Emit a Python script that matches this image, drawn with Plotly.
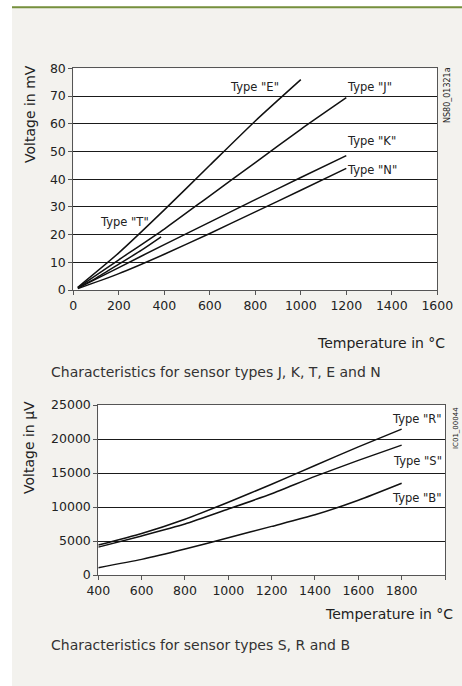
import plotly.graph_objects as go

W, H = 462, 686

# ---- Chart 1 data (mV vs °C) ----
temp_E = [20, 200, 400, 600, 800, 1000]
volt_E = [1.0, 13.4, 28.9, 45.0, 61.0, 75.9]
temp_J = [20, 200, 400, 600, 800, 1000, 1200]
volt_J = [0.9, 10.9, 22.0, 34.0, 46.0, 58.0, 69.4]
temp_K = [20, 200, 400, 600, 800, 1000, 1200]
volt_K = [0.7, 8.1, 16.4, 24.5, 32.6, 40.6, 48.5]
temp_N = [20, 200, 400, 600, 800, 1000, 1200]
volt_N = [0.5, 5.9, 12.9, 20.4, 28.2, 36.0, 43.9]
temp_T = [20, 100, 200, 300, 386]
volt_T = [0.8, 4.3, 9.3, 14.4, 19.2]

x1_ticks = [0, 200, 400, 600, 800, 1000, 1200, 1400, 1600]

# ---- Chart 2 data (µV vs °C) ----
temp_RSB = [400, 600, 800, 1000, 1200, 1400, 1600, 1800]
volt_R = [4400, 6100, 8200, 10700, 13350, 16100, 18850, 21450]
volt_S = [4100, 5750, 7500, 9700, 11950, 14500, 16850, 19100]
volt_B = [1080, 2300, 3820, 5480, 7150, 8850, 11000, 13500]

x2_ticks = [400, 600, 800, 1000, 1200, 1400, 1600, 1800, 2000]
x2_labels = ["400", "600", "800", "1000", "1200", "1400", "1600", "1800", ""]

FONT = "DejaVu Sans"
TXT = "#222222"
BEIGE = "#f3f2ee"
GREEN = "#76903d"


def px(x):
    return x / W


def py(y):
    return 1 - y / H


line_style = dict(color="#111111", width=1.5, shape="spline", smoothing=0.6)

fig = go.Figure()
for tx, vy in [(temp_E, volt_E), (temp_J, volt_J), (temp_K, volt_K),
               (temp_N, volt_N), (temp_T, volt_T)]:
    fig.add_trace(go.Scatter(x=tx, y=vy, mode="lines", line=line_style,
                             xaxis="x", yaxis="y", hoverinfo="skip"))
for vy in [volt_R, volt_S, volt_B]:
    fig.add_trace(go.Scatter(x=temp_RSB, y=vy, mode="lines", line=line_style,
                             xaxis="x2", yaxis="y2", hoverinfo="skip"))

axis_common = dict(
    showline=True, linecolor="#555555", linewidth=1, mirror=True,
    ticks="outside", ticklen=4, tickcolor="#555555", tickwidth=1,
    zeroline=False, tickfont=dict(family=FONT, size=12.5, color=TXT),
    fixedrange=True, automargin=False,
)

fig.update_layout(
    width=W, height=H,
    margin=dict(l=0, r=0, t=0, b=0, autoexpand=False),
    paper_bgcolor=BEIGE,
    plot_bgcolor="white",
    showlegend=False,
    font=dict(family=FONT, color=TXT),
    xaxis=dict(domain=[px(73.3), px(437.3)], range=[0, 1600],
               tickvals=x1_ticks, showgrid=False, anchor="y", **axis_common),
    yaxis=dict(domain=[py(290), py(68.3)], range=[0, 80], dtick=10,
               showgrid=True, gridcolor="#1a1a1a", gridwidth=1,
               anchor="x", **axis_common),
    xaxis2=dict(domain=[px(98.3), px(445)], range=[400, 2000],
                tickvals=x2_ticks, ticktext=x2_labels, showgrid=False,
                anchor="y2", **axis_common),
    yaxis2=dict(domain=[py(575), py(405)], range=[0, 25000], dtick=5000,
                tickformat="d", showgrid=True, gridcolor="#1a1a1a",
                gridwidth=1, anchor="x2", **axis_common),
)

shapes = [
    dict(type="rect", xref="paper", yref="paper", x0=0, x1=px(12), y0=0, y1=1,
         fillcolor="white", line=dict(width=0)),
    dict(type="rect", xref="paper", yref="paper", x0=0, x1=1, y0=py(6.3), y1=1,
         fillcolor="white", line=dict(width=0)),
    dict(type="rect", xref="paper", yref="paper", x0=px(12), x1=1,
         y0=py(8.3), y1=py(6.3), fillcolor=GREEN, line=dict(width=0)),
]
fig.update_layout(shapes=shapes)


def ann(text, x, y, size=11.5, xanchor="center", angle=0, color=TXT):
    fig.add_annotation(text=text, xref="paper", yref="paper", x=px(x), y=py(y),
                       xanchor=xanchor, yanchor="middle", showarrow=False,
                       textangle=angle,
                       font=dict(family=FONT, size=size, color=color))


# Chart 1 labels
ann('Type "E"', 228, 87.3, xanchor="left")
ann('Type "J"', 345, 87.3, xanchor="left")
ann('Type "K"', 345, 141, xanchor="left")
ann('Type "N"', 345, 170, xanchor="left")
ann('Type "T"', 97.5, 221.7, xanchor="left")
ann("Voltage in mV", 30, 114, size=14, angle=-90)
ann("NS80_01321a", 447, 95, size=8, angle=-90)
ann("Temperature in °C", 447, 343.3, size=14, xanchor="right")
ann("Characteristics for sensor types J, K, T, E and N", 49, 371.7, size=14,
    xanchor="left", color="#333333")

# Chart 2 labels
ann('Type "R"', 443.5, 419.3, xanchor="right")
ann('Type "S"', 443.5, 460.7, xanchor="right")
ann('Type "B"', 443.5, 498.3, xanchor="right")
ann("Voltage in µV", 29, 448, size=14, angle=-90)
ann("IC01_00044", 456, 428, size=7, angle=-90)
ann("Temperature in °C", 455, 614.3, size=14, xanchor="right")
ann("Characteristics for sensor types S, R and B", 49, 645, size=14,
    xanchor="left", color="#333333")

fig.write_html(
    "out.html",
    config={"displayModeBar": False},
    post_script="document.body.style.margin='0px';"
                "document.body.style.padding='0px';"
                "document.documentElement.style.overflow='hidden';",
)
